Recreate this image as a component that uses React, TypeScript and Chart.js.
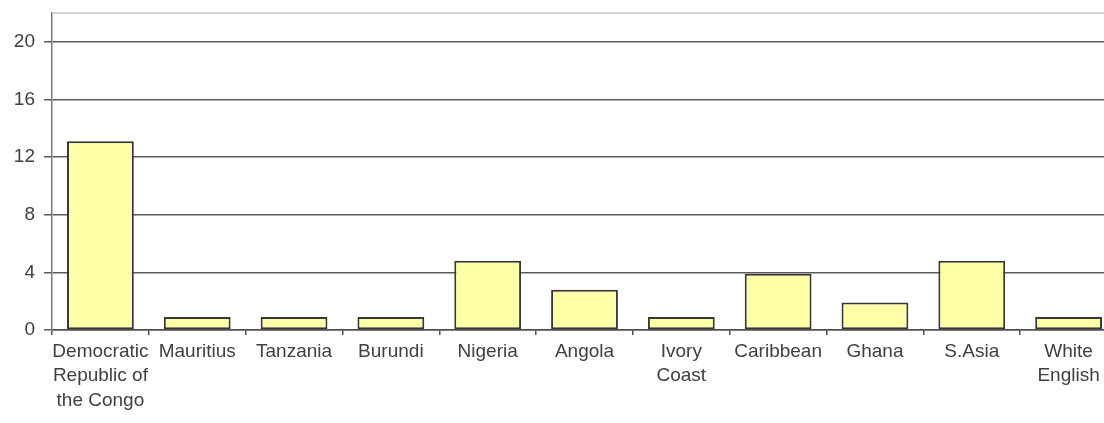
import React, { useEffect, useRef } from "react";
import { Chart, registerables } from "chart.js";

Chart.register(...registerables);

const categories: (string | string[])[] = [
  ["Democratic", "Republic of", "the Congo"],
  "Mauritius",
  "Tanzania",
  "Burundi",
  "Nigeria",
  "Angola",
  ["Ivory", "Coast"],
  "Caribbean",
  "Ghana",
  "S.Asia",
  ["White", "English"],
];

const values: number[] = [13.1, 0.9, 0.9, 0.9, 4.8, 2.8, 0.9, 3.9, 1.9, 4.8, 0.9];

const yTicks: number[] = [0, 4, 8, 12, 16, 20];
const yMax = 22;

const topBorder = {
  id: "topBorder",
  afterDraw(chart: any) {
    const { ctx, chartArea } = chart;
    ctx.save();
    ctx.strokeStyle = "#c8c8c8";
    ctx.lineWidth = 1.5;
    ctx.beginPath();
    ctx.moveTo(chartArea.left, chartArea.top);
    ctx.lineTo(chartArea.right, chartArea.top);
    ctx.stroke();
    ctx.restore();
  },
};

export default function App() {
  const ref = useRef<HTMLCanvasElement | null>(null);

  useEffect(() => {
    if (!ref.current) return;
    const font = { family: "'Liberation Sans', Arial, sans-serif", size: 19 };
    const chart = new Chart(ref.current, {
      type: "bar",
      data: {
        labels: categories,
        datasets: [
          {
            data: values,
            backgroundColor: "#FFFFA8",
            borderColor: "#383838",
            borderWidth: 2,
            borderSkipped: false,
            categoryPercentage: 1,
            barPercentage: 0.69,
          },
        ],
      },
      options: {
        animation: false,
        responsive: false,
        maintainAspectRatio: false,
        devicePixelRatio: 1,
        layout: { padding: { top: 13, right: 0, left: 0, bottom: 0 } },
        plugins: {
          legend: { display: false },
          tooltip: { enabled: false },
        },
        scales: {
          x: {
            offset: true,
            grid: {
              offset: true,
              drawOnChartArea: false,
              drawTicks: true,
              tickLength: 5,
              color: "#505050",
              lineWidth: 1.5,
            },
            border: { display: true, color: "#505050", width: 1.5 },
            ticks: {
              font: { ...font, lineHeight: 1.3 },
              color: "#404040",
              maxRotation: 0,
              minRotation: 0,
              autoSkip: false,
              padding: 4,
            },
            afterFit: (s: any) => {
              s.height = 93;
              s.paddingLeft = 0;
              s.paddingRight = 0;
            },
          },
          y: {
            min: 0,
            max: yMax,
            afterBuildTicks: (s: any) => {
              s.ticks = yTicks.map((v) => ({ value: v }));
            },
            grid: {
              color: "#5a5a5a",
              lineWidth: 1.5,
              tickLength: 8,
              drawTicks: true,
            },
            border: { display: true, color: "#7a7a7a", width: 1.5 },
            ticks: {
              font,
              color: "#404040",
              padding: 9,
            },
            afterFit: (s: any) => {
              s.width = 52;
              s.paddingTop = 0;
              s.paddingBottom = 0;
            },
          },
        },
      },
      plugins: [topBorder],
    });
    return () => chart.destroy();
  }, []);

  return (
    <div
      style={{
        position: "fixed",
        left: 0,
        top: 0,
        width: 1104,
        height: 423,
        overflow: "hidden",
        background: "#fff",
      }}
    >
      <canvas ref={ref} width={1117} height={423} style={{ width: 1117, height: 423, display: "block" }} />
    </div>
  );
}
